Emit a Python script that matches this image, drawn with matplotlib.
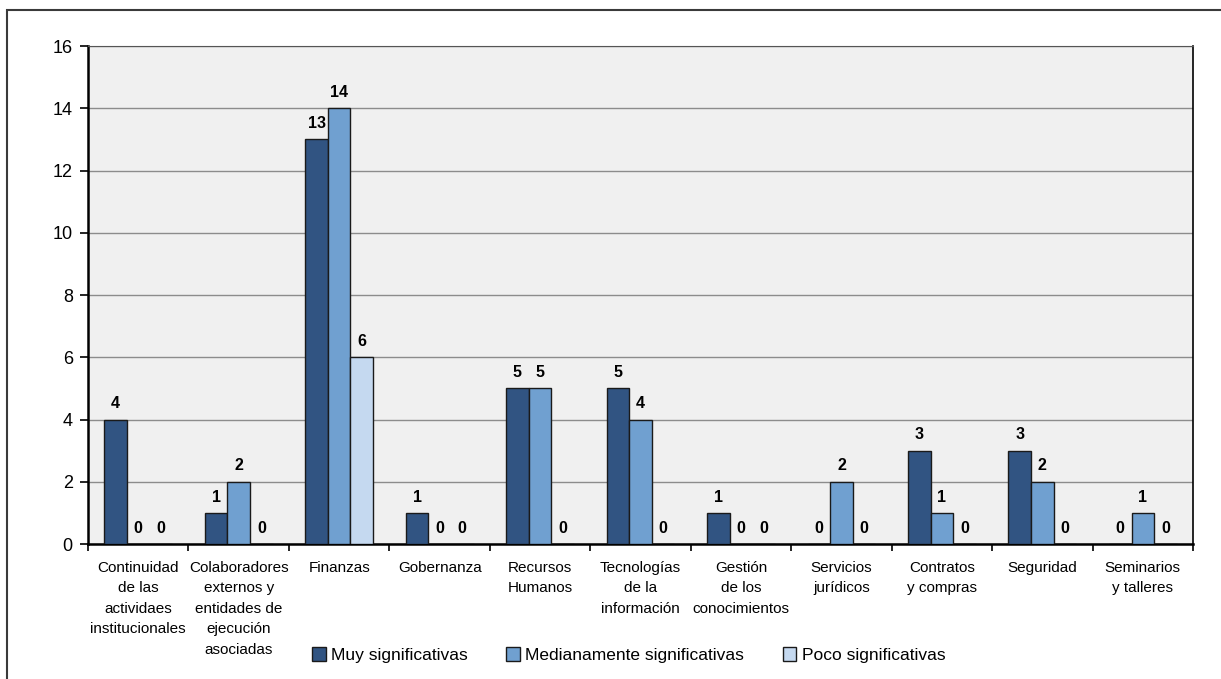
# coding=utf-8

import matplotlib.pyplot as plt
import numpy as np
from matplotlib.patches import Rectangle

# categorías del eje x
categorias = [
    'Continuidad\nde las\nactividaes\ninstitucionales',
    'Colaboradores\nexternos y\nentidades de\nejecución\nasociadas',
    'Finanzas',
    'Gobernanza',
    'Recursos\nHumanos',
    'Tecnologías\nde la\ninformación',
    'Gestión\nde los\nconocimientos',
    'Servicios\njurídicos',
    'Contratos\ny compras',
    'Seguridad',
    'Seminarios\ny talleres',
]

muy = [4, 1, 13, 1, 5, 5, 1, 0, 3, 3, 0]
medianamente = [0, 2, 14, 0, 5, 4, 0, 2, 1, 2, 1]
poco = [0, 0, 6, 0, 0, 0, 0, 0, 0, 0, 0]

series = ['Muy significativas', 'Medianamente significativas', 'Poco significativas']
colores = ['#315482', '#70A0D0', '#C5D9F0']


def main():
    plt.rcParams['font.family'] = ['Liberation Sans Narrow', 'Liberation Sans', 'DejaVu Sans']

    fig = plt.figure(figsize=(12.21, 6.79), dpi=100)
    ax = fig.add_axes([0.0721, 0.1988, 0.9050, 0.7334])
    ax.set_facecolor('#F0F0F0')

    x = np.arange(len(categorias))
    ancho = 0.225
    datos = [muy, medianamente, poco]

    for i, (vals, nombre, color) in enumerate(zip(datos, series, colores)):
        pos = x + (i - 1) * ancho
        ax.bar(pos, vals, ancho, color=color, edgecolor='#1a1a1a',
               linewidth=1.0, label=nombre, zorder=3)
        for px, v in zip(pos, vals):
            ax.annotate(str(v), (px, v), xytext=(0, 6), textcoords='offset points',
                        ha='center', va='bottom', fontsize=11.5, fontweight='bold',
                        zorder=4)

    # ejes
    ax.set_xlim(-0.5, len(categorias) - 0.5)
    ax.set_ylim(0, 16)
    ax.set_yticks(range(0, 17, 2))
    ax.yaxis.grid(True, color='#8c8c8c', linewidth=1.0, zorder=0)
    ax.set_axisbelow(True)

    ax.set_xticks(x)
    ax.set_xticklabels(categorias, fontsize=11, linespacing=1.6, va='top')
    ax.tick_params(axis='x', length=0, pad=12)
    ax.set_xticks(np.arange(-0.5, len(categorias), 1), minor=True)
    ax.tick_params(axis='x', which='minor', length=5, width=1.2, direction='out')
    ax.tick_params(axis='y', length=6, width=1.2, direction='out', labelsize=13, pad=5)

    for lado in ['left', 'bottom']:
        ax.spines[lado].set_linewidth(1.8)
    ax.spines['right'].set_linewidth(1.2)
    ax.spines['top'].set_color('#555555')

    # leyenda
    fig.legend(loc='center', bbox_to_anchor=(0.515, 0.035), ncol=3, frameon=False,
               fontsize=12.5, handlelength=0.8, handleheight=0.8,
               handletextpad=0.3, columnspacing=2.2)

    # marco exterior
    fig.add_artist(Rectangle((7 / 1221, -0.05), 1.2, (679 - 10) / 679 + 0.05,
                             transform=fig.transFigure, fill=False,
                             edgecolor='#3a3a3a', linewidth=1.5))

    plt.savefig('out.png', dpi=100)


if __name__ == '__main__':
    main()
